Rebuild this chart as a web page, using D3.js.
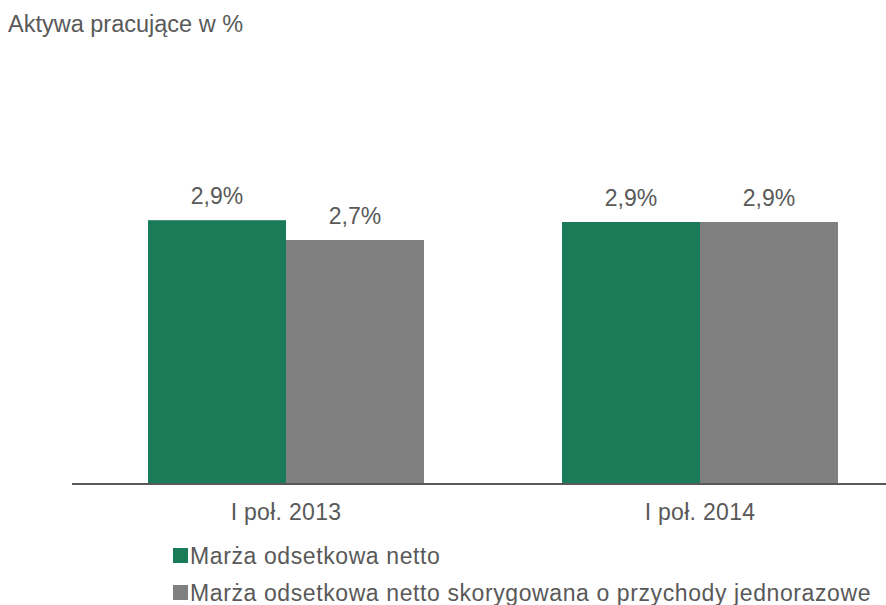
<!DOCTYPE html>
<html>
<head>
<meta charset="utf-8">
<script src="https://cdn.jsdelivr.net/npm/d3@7"></script>
<style>
  body { margin: 0; background: #fff; }
  svg { display: block; font-family: "Liberation Sans", Arial, sans-serif; }
</style>
</head>
<body>
<svg id="chart" width="886" height="605"></svg>
<script>
const title = "Aktywa pracujące w %";
const categories = ["I poł. 2013", "I poł. 2014"];
const seriesNames = ["Marża odsetkowa netto", "Marża odsetkowa netto skorygowana o przychody jednorazowe"];
const netMargin = [2.92, 2.90];
const adjustedMargin = [2.70, 2.90];
const colors = ["#1a7b59", "#808080"];

const series = [netMargin, adjustedMargin];
const textColor = "#595959";

const svg = d3.select("#chart");
svg.append("rect").attr("width", 886).attr("height", 605).attr("fill", "#fff");

svg.append("text")
  .attr("x", 8).attr("y", 32)
  .attr("font-size", 23.5).attr("fill", textColor)
  .text(title);

const x0 = d3.scaleBand().domain(categories).range([79, 907]).paddingInner(1/3).paddingOuter(1/6);
const x1 = d3.scaleBand().domain(d3.range(series.length)).range([0, x0.bandwidth()]);
const y = d3.scaleLinear().domain([0, 4]).range([483, 123]);
const fmt = v => d3.format(".1f")(v).replace(".", ",") + "%";

const groups = svg.append("g").selectAll("g")
  .data(categories)
  .join("g")
  .attr("transform", d => `translate(${x0(d)},0)`);

groups.selectAll("rect")
  .data((d, i) => series.map((s, k) => ({ k, v: s[i] })))
  .join("rect")
  .attr("x", d => x1(d.k))
  .attr("width", x1.bandwidth())
  .attr("y", d => y(d.v))
  .attr("height", d => y(0) - y(d.v))
  .attr("fill", d => colors[d.k]);

groups.selectAll("text.val")
  .data((d, i) => series.map((s, k) => ({ k, v: s[i] })))
  .join("text")
  .attr("class", "val")
  .attr("x", d => x1(d.k) + x1.bandwidth() / 2)
  .attr("y", d => y(d.v) - 16)
  .attr("text-anchor", "middle")
  .attr("font-size", 23)
  .attr("fill", textColor)
  .text(d => fmt(d.v));

// axis
const axis = svg.append("g")
  .attr("transform", `translate(0,${y(0)})`)
  .call(d3.axisBottom(x0).tickSize(0).tickPadding(0));
axis.select(".domain").remove();
axis.selectAll("text")
  .attr("y", 37)
  .attr("dy", 0)
  .attr("font-size", 23)
  .attr("font-family", "Liberation Sans, Arial, sans-serif")
  .attr("letter-spacing", "0.3px")
  .attr("fill", textColor);

svg.append("line")
  .attr("x1", 72).attr("x2", 886)
  .attr("y1", y(0) + 1).attr("y2", y(0) + 1)
  .attr("stroke", "#595959").attr("stroke-width", 2);

// legend
const legend = svg.append("g").selectAll("g")
  .data(seriesNames)
  .join("g")
  .attr("transform", (d, i) => `translate(173,${548 + i * 37})`);
legend.append("rect")
  .attr("width", 15).attr("height", 15)
  .attr("fill", (d, i) => colors[i]);
legend.append("text")
  .attr("x", 17).attr("y", 16)
  .attr("font-size", 23)
  .attr("letter-spacing", "0.6px")
  .attr("fill", textColor)
  .text(d => d);
</script>
</body>
</html>
